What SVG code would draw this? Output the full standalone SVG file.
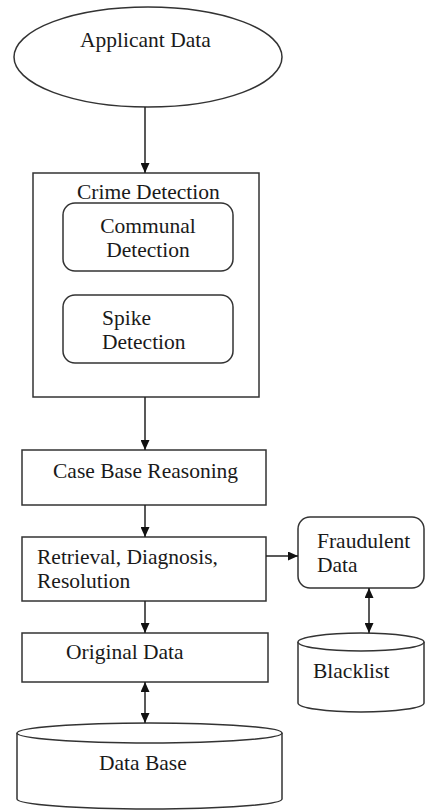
<svg xmlns="http://www.w3.org/2000/svg" width="426" height="810" viewBox="0 0 426 810">
<style>
.s{fill:#fff;stroke:#333;stroke-width:1.5}
.l{fill:none;stroke:#222;stroke-width:1.5}
.t{font-family:"Liberation Serif","Times New Roman",serif;font-size:21.5px;fill:#1a1a1a}
</style>
<defs>
<marker id="ah" viewBox="0 0 10 10" refX="10" refY="5" markerWidth="10" markerHeight="9" markerUnits="userSpaceOnUse" orient="auto-start-reverse" preserveAspectRatio="none">
<path d="M0,0 L10,5 L0,10 z" fill="#111"/>
</marker>
</defs>
<rect width="426" height="810" fill="#fff"/>
<g id="applicant">
<ellipse class="s" cx="148" cy="57" rx="134" ry="50"/>
<text class="t" x="80" y="47">Applicant Data</text>
</g>
<g id="crime">
<rect class="s" x="33" y="173" width="226" height="224"/>
<text class="t" x="77" y="199">Crime Detection</text>
</g>
<g id="communal">
<rect class="s" x="63" y="203" width="170" height="68" rx="12"/>
<text class="t" x="148" y="233" text-anchor="middle">Communal</text>
<text class="t" x="148" y="257" text-anchor="middle">Detection</text>
</g>
<g id="spike">
<rect class="s" x="63" y="295" width="170" height="68" rx="12"/>
<text class="t" x="102" y="325">Spike</text>
<text class="t" x="102" y="349">Detection</text>
</g>
<g id="cbr">
<rect class="s" x="22" y="450" width="244" height="55"/>
<text class="t" x="53" y="478">Case Base Reasoning</text>
</g>
<g id="retrieval">
<rect class="s" x="22" y="537" width="244" height="64"/>
<text class="t" x="37" y="564">Retrieval, Diagnosis,</text>
<text class="t" x="37" y="588">Resolution</text>
</g>
<g id="fraudulent">
<rect class="s" x="298" y="517" width="126" height="71" rx="12"/>
<text class="t" x="317" y="548">Fraudulent</text>
<text class="t" x="317" y="572">Data</text>
</g>
<g id="original">
<rect class="s" x="22" y="633" width="246" height="49"/>
<text class="t" x="66" y="659">Original Data</text>
</g>
<g id="blacklist">
<path class="s" d="M298,642 L298,703 A63,9 0 0 0 424,703 L424,642"/>
<ellipse class="s" cx="361" cy="642" rx="63" ry="9"/>
<text class="t" x="313" y="678">Blacklist</text>
</g>
<g id="database">
<path class="s" d="M17,733 L17,799 A132.5,10 0 0 0 282,799 L282,733"/>
<ellipse class="s" cx="149.5" cy="733" rx="132.5" ry="10"/>
<text class="t" x="99" y="770">Data Base</text>
</g>
<g id="connectors">
<line class="l" x1="145" y1="107" x2="145" y2="173" marker-end="url(#ah)"/>
<line class="l" x1="145" y1="397" x2="145" y2="450" marker-end="url(#ah)"/>
<line class="l" x1="145" y1="505" x2="145" y2="537" marker-end="url(#ah)"/>
<line class="l" x1="266" y1="556" x2="298" y2="556" marker-end="url(#ah)"/>
<line class="l" x1="145" y1="601" x2="145" y2="633" marker-end="url(#ah)"/>
<line class="l" x1="145" y1="682" x2="145" y2="723" marker-start="url(#ah)" marker-end="url(#ah)"/>
<line class="l" x1="369" y1="588" x2="369" y2="633" marker-start="url(#ah)" marker-end="url(#ah)"/>
</g>
</svg>
